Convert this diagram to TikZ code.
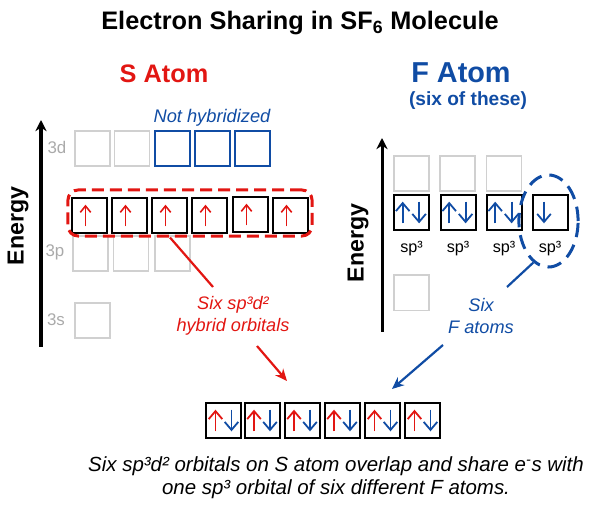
\documentclass[tikz,border=0pt]{standalone}
\usepackage{fontspec}
\setmainfont{Liberation Sans}
\usetikzlibrary{arrows.meta,shapes.geometric}
\definecolor{sred}{RGB}{226,22,18}
\definecolor{fblue}{RGB}{16,76,164}
\definecolor{boxgray}{RGB}{208,208,208}
\definecolor{labelgray}{RGB}{170,170,170}
\tikzset{
  orbital/.style={draw=black,fill=white,line width=0.05cm,minimum width=0.875cm,minimum height=0.875cm,inner sep=0pt,anchor=north west},
  emptybox/.style={orbital,draw=boxgray,line width=0.04cm},
  freebox/.style={orbital,draw=fblue},
  spinarrow/.style={line width=0.04cm,-{Straight Barb[length=0.16cm,width=0.26cm]}},
  widespin/.style={line width=0.045cm,-{Straight Barb[length=0.2cm,width=0.34cm]}},
  levellabel/.style={text=labelgray,font=\fontsize{12}{12}\selectfont},
  energylabel/.style={font=\fontsize{16.5}{16.5}\selectfont\bfseries,rotate=90},
  spthree/.style={font=\fontsize{11.5}{11.5}\selectfont},
  callout/.style={font=\fontsize{12.9}{15.6}\selectfont\itshape,align=center,inner sep=0pt},
  energyaxis/.style={line width=0.075cm,-{Stealth[length=0.28cm,width=0.28cm]}},
}
% spin arrows inside a box, relative to its centre
\newcommand{\spinup}[3]{\draw[spinarrow,#2] ([xshift=#3 cm,yshift=-0.27cm]#1.center) -- ([xshift=#3 cm,yshift=0.27cm]#1.center);}
\newcommand{\spindown}[3]{\draw[spinarrow,#2] ([xshift=#3 cm,yshift=0.27cm]#1.center) -- ([xshift=#3 cm,yshift=-0.27cm]#1.center);}
\begin{document}
\begin{tikzpicture}[x=0.025cm,y=-0.025cm]
  \useasboundingbox (0,0) rectangle (600,518);

  % Title and headings
  \node (title) at (300,23) {\fontsize{18}{18}\selectfont\bfseries Electron Sharing in SF\textsubscript{6} Molecule};
  \node[text=sred] (satom) at (164,74) {\fontsize{18}{18}\selectfont\bfseries S Atom};
  \node[text=fblue] (fatom) at (461,73) {\fontsize{20.5}{20.5}\selectfont\bfseries F Atom};
  \node[text=fblue] (fsix) at (468,101) {\fontsize{13.6}{13.6}\selectfont\bfseries (six of these)};
  \node[text=fblue] (nothyb) at (212,118) {\fontsize{13}{13}\selectfont\itshape Not hybridized};

  % Energy axis of S atom
  \coordinate (saxisa) at (41,347);
  \coordinate (saxisb) at (41,120);
  \draw[energyaxis] (saxisa) -- (saxisb);
  \node[energylabel] (senergy) at (18,226) {Energy};
  \node[levellabel] (sd) at (57,147) {3d};
  \node[levellabel] (sp) at (55,252) {3p};
  \node[levellabel] (ss) at (56,320) {3s};

  % Boxes 3d
  \foreach \i/\x in {1/74,2/113.5} \node[emptybox] (dbox\i) at (\x,130) {};
  \foreach \i/\x in {3/154,4/194,5/234} \node[freebox] (dbox\i) at (\x,130) {};

  % Boxes 3p and 3s
  \foreach \i/\x in {1/72,2/112.5,3/154} \node[emptybox] (pbox\i) at (\x,235) {};
  \node[emptybox] (sbox) at (74,302) {};

  % Hybrid boxes of S atom
  \foreach \i/\x/\y in {1/71/197,2/111/197,3/151/197,4/191/197,5/232/196,6/272/197} {
    \node[orbital] (hbox\i) at (\x,\y) {};
    \spinup{hbox\i}{sred}{-0.1}
  }
  \node[draw=sred,line width=0.075cm,dash pattern=on 0.3cm off 0.15cm,rounded corners=0.25cm,minimum width=6.1cm,minimum height=1.15cm,inner sep=0pt] (hybrid) at (190,213) {};

  % Energy axis of F atom
  \coordinate (faxisa) at (382,332);
  \coordinate (faxisb) at (382,138);
  \draw[energyaxis] (faxisa) -- (faxisb);
  \node[energylabel] (fenergy) at (358,243) {Energy};

  % Empty boxes of F atom
  \foreach \i/\x in {1/393,2/439,3/485.5} \node[emptybox] (ebox\i) at (\x,155) {};
  \node[emptybox] (lowbox) at (393,274.5) {};

  % sp3 boxes of F atom
  \foreach \i/\x in {1/393,2/439.5,3/485.5,4/531.5} {
    \node[orbital] (fbox\i) at (\x,194) {};
    \node[spthree] (fsp\i) at ([yshift=-0.43cm]fbox\i.south) {sp³};
  }
  \foreach \i in {1,2,3} {
    \spinup{fbox\i}{fblue,widespin}{-0.22}
    \spindown{fbox\i}{fblue,widespin}{0.19}
  }
  \spindown{fbox4}{fblue,widespin}{-0.15}

  % Circle round the last sp3 box
  \node[draw=fblue,line width=0.075cm,dash pattern=on 0.36cm off 0.2cm,ellipse,minimum width=1.48cm,minimum height=2.3cm,inner sep=0pt] (fcircle) at (548.5,221) {};

  % Shared boxes
  \foreach \i/\x in {1/205,2/243.5,3/283.5,4/323.5,5/364,6/404} {
    \node[orbital] (sbox\i) at (\x,402) {};
    \spinup{sbox\i}{sred,widespin}{-0.2}
    \spindown{sbox\i}{fblue,widespin}{0.2}
  }

  % Red connector, broken by its label
  \node[callout,text=sred] (hyblabel) at (233,316) {Six sp³d²\\hybrid orbitals};
  \coordinate (redtop) at (213,287);
  \coordinate (redbottom) at (257,346);
  \coordinate (redtip) at (287,381);
  \draw[sred,line width=0.055cm] (hybrid.south -| 170,0) -- (redtop);
  \draw[sred,line width=0.055cm,-{Stealth[length=0.3cm,width=0.26cm]}] (redbottom) -- (redtip);

  % Blue connector, broken by its label
  \node[callout,text=fblue] (flabel) at (481,316) {Six\\F atoms};
  \coordinate (bluetop) at (507,287);
  \coordinate (bluebottom) at (443,345);
  \coordinate (bluetip) at (392,389);
  \draw[fblue,line width=0.055cm] (fcircle.250) -- (bluetop);
  \draw[fblue,line width=0.055cm,-{Stealth[length=0.3cm,width=0.26cm]}] (bluebottom) -- (bluetip);

  % Caption
  \node[align=center,inner sep=0pt,font=\fontsize{14.55}{16.4}\selectfont\itshape] (caption) at (336,478) {Six sp³d² orbitals on S atom overlap and share e\textsuperscript{-}s with\\one sp³ orbital of six different F atoms.};
\end{tikzpicture}
\end{document}
